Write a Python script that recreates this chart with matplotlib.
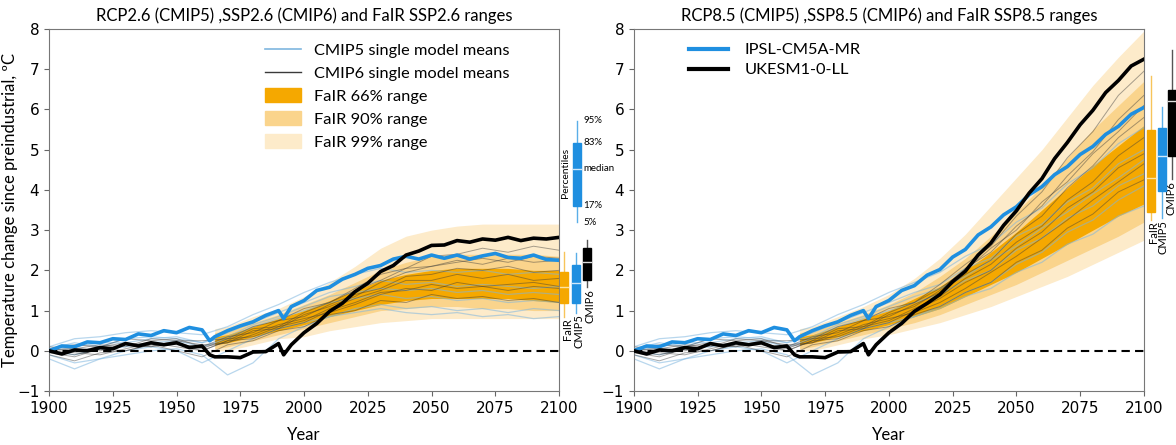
import numpy as np
import matplotlib
matplotlib.use("Agg")
import matplotlib.pyplot as plt
from matplotlib.patches import Rectangle
from matplotlib.lines import Line2D
from matplotlib.patches import Patch

plt.rcParams['font.family'] = ['Lato', 'DejaVu Sans']

# ---------------- data ----------------
yrs_bold = [1900, 1905, 1910, 1915, 1920, 1925, 1930, 1935, 1940, 1945, 1950, 1955, 1960,
            1963, 1965, 1970, 1975, 1980, 1985, 1990, 1992, 1995, 2000, 2005, 2010, 2015,
            2020, 2025, 2030, 2035, 2040, 2045, 2050, 2055, 2060, 2065, 2070, 2075, 2080,
            2085, 2090, 2095, 2100]

ipsl_26 = [0.0, 0.12, 0.1, 0.22, 0.2, 0.3, 0.28, 0.42, 0.38, 0.5, 0.45, 0.58, 0.52,
           0.25, 0.35, 0.5, 0.62, 0.72, 0.88, 1.0, 0.8, 1.1, 1.25, 1.5, 1.58, 1.78,
           1.9, 2.05, 2.12, 2.28, 2.35, 2.28, 2.38, 2.3, 2.38, 2.28, 2.36, 2.42, 2.32,
           2.3, 2.38, 2.27, 2.25]
ipsl_85 = [0.0, 0.12, 0.1, 0.22, 0.2, 0.3, 0.28, 0.42, 0.38, 0.5, 0.45, 0.58, 0.52,
           0.25, 0.35, 0.5, 0.62, 0.72, 0.88, 1.0, 0.8, 1.1, 1.25, 1.5, 1.62, 1.88,
           2.02, 2.33, 2.52, 2.88, 3.08, 3.38, 3.58, 3.88, 4.08, 4.38, 4.58, 4.88, 5.08,
           5.38, 5.58, 5.88, 6.05]
ukesm_26 = [0.0, -0.08, 0.02, 0.0, 0.08, 0.05, 0.18, 0.12, 0.2, 0.15, 0.2, 0.08, 0.12,
            -0.1, -0.15, -0.15, -0.17, -0.03, -0.02, 0.18, -0.1, 0.15, 0.45, 0.68, 0.98, 1.18,
            1.47, 1.68, 1.97, 2.12, 2.38, 2.48, 2.62, 2.63, 2.74, 2.7, 2.78, 2.75, 2.82,
            2.74, 2.8, 2.78, 2.82]
ukesm_85 = [0.0, -0.08, 0.02, 0.0, 0.08, 0.05, 0.18, 0.12, 0.2, 0.15, 0.2, 0.08, 0.12,
            -0.1, -0.15, -0.15, -0.17, -0.03, -0.02, 0.18, -0.1, 0.15, 0.45, 0.68, 0.98, 1.18,
            1.4, 1.72, 1.98, 2.38, 2.68, 3.12, 3.48, 3.92, 4.28, 4.78, 5.18, 5.62, 5.98,
            6.42, 6.72, 7.08, 7.25]

# single model means, 10-yearly: historical part 1900-2010, scenario part 2020-2100
yrs_hist = list(range(1900, 2011, 10))
yrs_fut = list(range(2020, 2101, 10))

cmip5_hist = [
    [0.0, -0.1, 0.05, 0.1, 0.2, 0.25, 0.1, 0.3, 0.6, 0.8, 1.0, 1.2],
    [-0.1, -0.3, -0.2, 0.0, 0.1, 0.0, -0.3, 0.0, 0.3, 0.55, 0.7, 0.85],
    [0.1, 0.3, 0.35, 0.45, 0.5, 0.45, 0.4, 0.6, 0.9, 1.15, 1.45, 1.7],
    [0.0, 0.1, 0.2, 0.2, 0.3, 0.35, 0.2, 0.45, 0.7, 0.95, 1.2, 1.45],
    [-0.2, -0.45, -0.2, -0.1, 0.0, 0.05, -0.1, -0.6, -0.3, 0.3, 0.6, 0.85],
    [0.05, 0.2, 0.1, 0.3, 0.35, 0.3, 0.2, 0.35, 0.65, 0.85, 1.1, 1.35],
]
cmip5_rcp26 = [
    [1.3, 1.4, 1.3, 1.35, 1.25, 1.3, 1.2, 1.25, 1.2],
    [0.95, 1.05, 0.95, 0.9, 0.95, 0.85, 0.9, 0.8, 0.85],
    [1.9, 2.05, 1.95, 2.0, 1.95, 2.0, 1.9, 1.95, 1.9],
    [1.6, 1.75, 1.65, 1.7, 1.6, 1.65, 1.6, 1.55, 1.6],
    [1.05, 1.15, 1.05, 1.1, 1.0, 1.05, 0.95, 1.05, 1.0],
    [1.45, 1.55, 1.5, 1.55, 1.45, 1.5, 1.4, 1.45, 1.4],
]
cmip5_rcp85 = [
    [1.4, 1.75, 2.0, 2.5, 2.8, 3.3, 3.6, 4.1, 4.4],
    [1.05, 1.35, 1.55, 1.95, 2.2, 2.65, 2.9, 3.35, 3.6],
    [1.95, 2.35, 2.65, 3.2, 3.55, 4.15, 4.55, 5.15, 5.55],
    [1.65, 2.05, 2.3, 2.85, 3.15, 3.7, 4.05, 4.65, 5.0],
    [1.1, 1.45, 1.7, 2.15, 2.45, 2.95, 3.25, 3.75, 4.1],
    [1.55, 1.85, 2.25, 2.6, 3.05, 3.45, 3.9, 4.3, 4.75],
]
cmip6_hist = [
    [0.0, -0.1, 0.05, 0.15, 0.1, 0.2, 0.0, 0.25, 0.3, 0.55, 0.7, 1.0],
    [0.1, 0.05, 0.15, 0.1, 0.3, 0.25, 0.25, 0.3, 0.6, 0.75, 1.05, 1.2],
    [-0.1, -0.25, -0.05, 0.0, 0.15, 0.0, -0.15, 0.15, 0.25, 0.5, 0.6, 0.9],
    [0.05, 0.15, 0.1, 0.3, 0.25, 0.3, 0.1, 0.35, 0.45, 0.75, 0.85, 1.15],
    [0.0, 0.05, 0.0, 0.15, 0.2, 0.15, 0.1, 0.2, 0.5, 0.55, 0.9, 1.1],
    [-0.05, -0.15, 0.05, 0.0, 0.15, 0.2, 0.05, 0.3, 0.35, 0.6, 0.75, 1.05],
    [0.05, 0.0, 0.1, 0.2, 0.1, 0.25, 0.15, 0.2, 0.4, 0.65, 0.8, 0.95],
    [0.0, -0.05, -0.1, 0.05, 0.2, 0.1, 0.0, 0.25, 0.55, 0.6, 0.95, 1.2],
]
cmip6_ssp26 = [
    [1.2, 1.45, 1.5, 1.65, 1.55, 1.6, 1.5, 1.6, 1.55],
    [1.55, 1.9, 2.05, 2.35, 2.4, 2.55, 2.45, 2.6, 2.5],
    [1.0, 1.25, 1.2, 1.4, 1.3, 1.35, 1.25, 1.3, 1.2],
    [1.4, 1.55, 1.85, 1.9, 2.05, 2.0, 2.1, 1.95, 2.0],
    [1.35, 1.7, 1.95, 2.1, 2.25, 2.15, 2.3, 2.2, 2.25],
    [1.3, 1.5, 1.75, 1.75, 1.9, 1.8, 1.9, 1.75, 1.8],
    [1.15, 1.4, 1.55, 1.5, 1.7, 1.6, 1.65, 1.7, 1.6],
    [1.5, 1.75, 2.05, 2.1, 2.2, 2.3, 2.2, 2.35, 2.3],
]
cmip6_ssp85 = [
    [1.3, 1.7, 2.0, 2.55, 2.95, 3.55, 3.95, 4.55, 4.9],
    [1.65, 2.15, 2.6, 3.35, 3.95, 4.8, 5.45, 6.35, 6.95],
    [1.1, 1.45, 1.7, 2.2, 2.5, 3.05, 3.4, 3.95, 4.25],
    [1.45, 1.9, 2.25, 2.9, 3.35, 4.05, 4.6, 5.3, 5.8],
    [1.5, 2.05, 2.45, 3.1, 3.6, 4.35, 4.95, 5.75, 6.35],
    [1.35, 1.8, 2.15, 2.7, 3.1, 3.75, 4.2, 4.85, 5.3],
    [1.2, 1.55, 1.95, 2.35, 2.8, 3.25, 3.75, 4.2, 4.65],
    [1.55, 2.0, 2.55, 3.0, 3.7, 4.2, 4.9, 5.45, 6.1],
]

# FaIR percentile ranges
yrs_fair = [1965, 1970, 1980, 1990, 2000, 2010, 2020, 2030, 2040, 2050, 2060, 2070, 2080, 2090, 2100]
fair26_p005 = [0.0, 0.0, 0.15, 0.3, 0.35, 0.5, 0.6, 0.7, 0.75, 0.8, 0.8, 0.8, 0.8, 0.8, 0.8]
fair26_p05 = [0.05, 0.1, 0.25, 0.4, 0.55, 0.7, 0.85, 1.0, 1.05, 1.1, 1.1, 1.05, 1.05, 1.0, 1.0]
fair26_p17 = [0.15, 0.2, 0.35, 0.5, 0.65, 0.85, 1.0, 1.15, 1.25, 1.3, 1.3, 1.3, 1.3, 1.25, 1.2]
fair26_p83 = [0.35, 0.4, 0.6, 0.8, 1.0, 1.25, 1.5, 1.75, 1.9, 2.0, 2.05, 2.05, 2.05, 2.0, 2.0]
fair26_p95 = [0.45, 0.5, 0.7, 0.9, 1.15, 1.4, 1.7, 2.0, 2.2, 2.35, 2.4, 2.4, 2.4, 2.4, 2.35]
fair26_p995 = [0.55, 0.6, 0.85, 1.05, 1.35, 1.7, 2.1, 2.55, 2.85, 3.0, 3.1, 3.15, 3.15, 3.15, 3.15]

fair85_p005 = [0.0, 0.0, 0.15, 0.3, 0.4, 0.55, 0.7, 0.9, 1.1, 1.35, 1.6, 1.85, 2.15, 2.45, 2.75]
fair85_p05 = [0.05, 0.1, 0.25, 0.4, 0.55, 0.7, 0.9, 1.15, 1.4, 1.65, 1.95, 2.25, 2.55, 2.85, 3.2]
fair85_p17 = [0.15, 0.2, 0.35, 0.5, 0.65, 0.85, 1.05, 1.35, 1.65, 1.95, 2.3, 2.65, 3.0, 3.35, 3.65]
fair85_p83 = [0.35, 0.4, 0.6, 0.8, 1.0, 1.3, 1.6, 2.0, 2.45, 2.95, 3.5, 4.05, 4.6, 5.1, 5.6]
fair85_p95 = [0.45, 0.5, 0.7, 0.9, 1.15, 1.45, 1.85, 2.3, 2.85, 3.45, 4.1, 4.8, 5.5, 6.1, 6.7]
fair85_p995 = [0.55, 0.6, 0.85, 1.1, 1.4, 1.8, 2.3, 2.9, 3.6, 4.3, 5.0, 5.8, 6.6, 7.3, 7.95]

# box plots at the right of each panel: [5%, 17%, median, 83%, 95%]
box26_fair = [0.85, 1.19, 1.59, 1.97, 2.46]
box26_cmip5 = [0.95, 1.19, 1.69, 2.14, 2.44]
box26_cmip6 = [1.59, 1.77, 2.21, 2.56, 2.76]
box85_fair = [3.26, 3.46, 4.30, 5.50, 6.82]
box85_cmip5 = [3.31, 3.98, 4.85, 5.55, 6.07]
box85_cmip6 = [4.28, 4.85, 6.22, 6.49, 7.49]
pct_example = [3.2, 3.6, 4.53, 5.17, 5.72]
pct_labels = ["5%", "17%", "median", "83%", "95%"]

box_names = ["FaIR", "CMIP5", "CMIP6"]

# ---------------- colours ----------------
c_66 = '#f5a800'
c_90 = '#fad48c'
c_99 = '#fdebca'
c_blue = '#1f8fe0'
c_thin5 = '#7fb6df'
c_thin6 = '#3a3a3a'


def draw_box(ax, xpos, stats, color, medcolor, wcolor, w=0.016):
	trans = ax.get_yaxis_transform()
	p5, p17, p50, p83, p95 = stats
	ax.plot([xpos, xpos], [p5, p95], transform=trans, color=wcolor, lw=1, clip_on=False, zorder=5)
	ax.add_patch(Rectangle((xpos - w / 2, p17), w, p83 - p17, transform=trans,
	                       facecolor=color, edgecolor=color, clip_on=False, zorder=6))
	ax.plot([xpos - w / 2, xpos + w / 2], [p50, p50], transform=trans, color=medcolor,
	        lw=1, clip_on=False, zorder=7)


def draw_panel(ax, title, ipsl, ukesm, c5_fut, c6_fut, fair, boxes, xs_box, xs_lab):
	p005, p05, p17, p83, p95, p995 = fair
	ax.fill_between(yrs_fair, p005, p995, color=c_99, lw=0, zorder=1)
	ax.fill_between(yrs_fair, p05, p95, color=c_90, lw=0, zorder=1)
	ax.fill_between(yrs_fair, p17, p83, color=c_66, lw=0, zorder=1)

	for h, f in zip(cmip5_hist, c5_fut):
		ax.plot(yrs_hist + yrs_fut, h + f, color=c_thin5, lw=0.9, alpha=0.55, zorder=2)
	for h, f in zip(cmip6_hist, c6_fut):
		ax.plot(yrs_hist + yrs_fut, h + f, color=c_thin6, lw=0.7, alpha=0.45, zorder=2)

	ax.axhline(0, color='k', lw=1.5, ls=(0, (4, 2.5)), zorder=3)
	ax.plot(yrs_bold, ipsl, color=c_blue, lw=2.6, zorder=4)
	ax.plot(yrs_bold, ukesm, color='k', lw=2.6, zorder=4)

	ax.set_xlim(1900, 2100)
	ax.set_ylim(-1, 8)
	ax.set_xticks(range(1900, 2101, 25))
	ax.set_yticks(range(-1, 9))
	ax.tick_params(labelsize=11, labelfontfamily='DejaVu Sans', color='#666666')
	for s in ax.spines.values():
		s.set_color('#777777')
	ax.set_title(title, fontsize=12, pad=6)
	ax.set_xlabel("Year", fontsize=12, labelpad=8)

	trans = ax.get_yaxis_transform()
	colors = [c_66, c_blue, 'k']
	wcols = ['#f7c45a', '#5aaee8', '#555555']
	meds = ['#fde3a0', '#cfe8fb', '#dddddd']
	for name, x, xl, st, c, wc, mc in zip(box_names, xs_box, xs_lab, boxes, colors, wcols, meds):
		draw_box(ax, x, st, c, mc, wc)
		ax.text(xl, st[0] - 0.05, name, transform=trans, rotation=90, ha='center',
		        va='top', fontsize=8, clip_on=False)


fig = plt.figure(figsize=(11.76, 4.45), dpi=100)
ax1 = fig.add_axes([0.0417, 0.1213, 0.4337, 0.8135])
ax2 = fig.add_axes([0.539, 0.1213, 0.4337, 0.8135])

draw_panel(ax1, "RCP2.6 (CMIP5) ,SSP2.6 (CMIP6) and FaIR SSP2.6 ranges",
           ipsl_26, ukesm_26, cmip5_rcp26, cmip6_ssp26,
           [fair26_p005, fair26_p05, fair26_p17, fair26_p83, fair26_p95, fair26_p995],
           [box26_fair, box26_cmip5, box26_cmip6], [1.010, 1.033, 1.055],
           [1.016, 1.039, 1.061])
draw_panel(ax2, "RCP8.5 (CMIP5) ,SSP8.5 (CMIP6) and FaIR SSP8.5 ranges",
           ipsl_85, ukesm_85, cmip5_rcp85, cmip6_ssp85,
           [fair85_p005, fair85_p05, fair85_p17, fair85_p83, fair85_p95, fair85_p995],
           [box85_fair, box85_cmip5, box85_cmip6], [1.0147, 1.035, 1.055],
           [1.018, 1.037, 1.053])

ax1.set_ylabel("Temperature change since preindustrial, ºC", fontsize=12)
ax1.yaxis.set_label_coords(-0.06, 0.5)

# percentile explanation box in the left panel
draw_box(ax1, 1.035, pct_example, c_blue, '#cfe8fb', '#5aaee8')
tr1 = ax1.get_yaxis_transform()
for lab, v in zip(pct_labels, pct_example):
	ax1.text(1.047, v, lab, transform=tr1, fontsize=7, va='center', ha='left', clip_on=False)
ax1.text(1.013, 4.43, "Percentiles", transform=tr1, rotation=90, fontsize=7.5,
         ha='center', va='center', clip_on=False)

# legends
h1 = [Line2D([], [], color=c_thin5, lw=1.2), Line2D([], [], color=c_thin6, lw=1.0),
      Patch(color=c_66), Patch(color=c_90), Patch(color=c_99)]
l1 = ["CMIP5 single model means", "CMIP6 single model means",
      "FaIR 66% range", "FaIR 90% range", "FaIR 99% range"]
ax1.legend(h1, l1, loc='upper left', bbox_to_anchor=(0.41, 0.98), frameon=False,
           fontsize=11.8, handlelength=2.2, handleheight=0.9, labelspacing=0.45,
           borderaxespad=0, handletextpad=0.8)

h2 = [Line2D([], [], color=c_blue, lw=3), Line2D([], [], color='k', lw=3)]
ax2.legend(h2, ["IPSL-CM5A-MR", "UKESM1-0-LL"], loc='upper left', bbox_to_anchor=(0.095, 0.98),
           frameon=False, fontsize=11.8, handlelength=2.4, labelspacing=0.35,
           borderaxespad=0, handletextpad=1.0)

fig.savefig("out.png", dpi=100)
